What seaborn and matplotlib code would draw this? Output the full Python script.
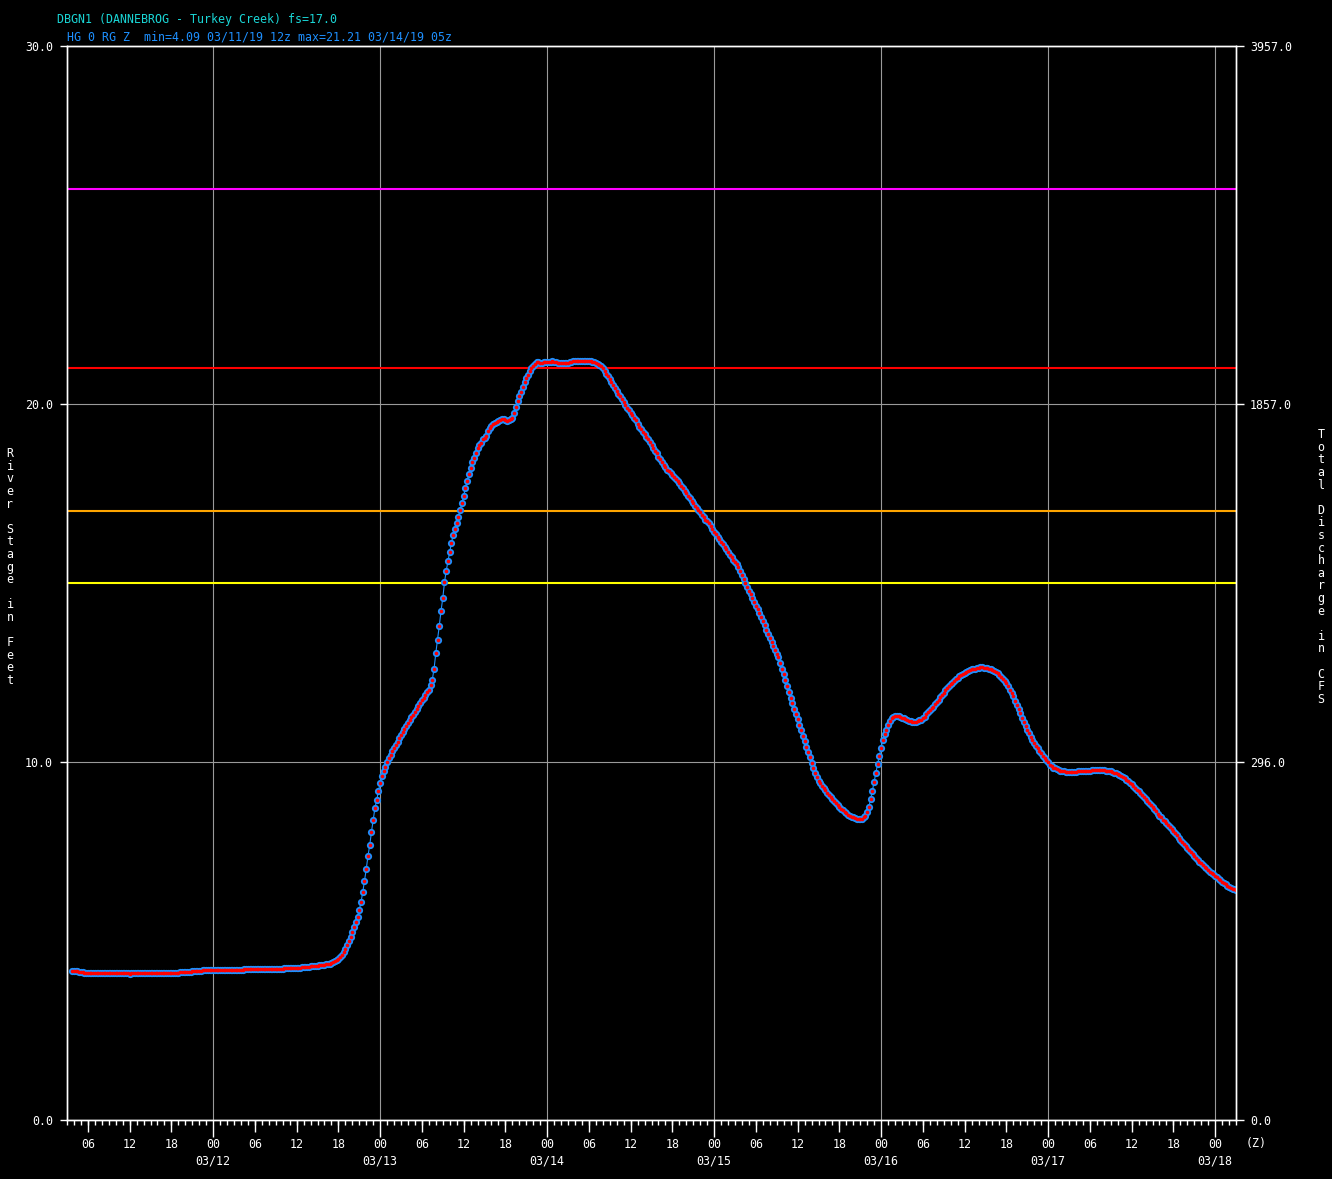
import numpy as np
import pandas as pd
import matplotlib
matplotlib.use('Agg')
import matplotlib.pyplot as plt
import matplotlib.dates as mdates
import matplotlib.transforms as mtransforms
import seaborn as sns

# DBGN1 river stage (ft), 15-minute observations, one list per UTC day
stage_0311 = [4.15,
              4.15, 4.15, 4.15, 4.14, 4.13, 4.13, 4.12, 4.12, 4.12, 4.12, 4.12, 4.12,
              4.12, 4.12, 4.12, 4.12, 4.12, 4.12, 4.12, 4.12, 4.12, 4.12, 4.12, 4.11,
              4.12, 4.12, 4.12, 4.12, 4.12, 4.12, 4.11, 4.11, 4.09, 4.10, 4.10, 4.11,
              4.11, 4.11, 4.12, 4.12, 4.12, 4.12, 4.12, 4.12, 4.11, 4.10, 4.10, 4.11,
              4.12, 4.11, 4.10, 4.10, 4.11, 4.12, 4.12, 4.11, 4.11, 4.11, 4.12, 4.12,
              4.12, 4.13, 4.13, 4.13, 4.13, 4.14, 4.14, 4.14, 4.15, 4.16, 4.16, 4.17,
              4.17, 4.17, 4.18, 4.18, 4.18, 4.18, 4.18, 4.19]
stage_0312 = [4.19, 4.19, 4.19, 4.19, 4.19, 4.19, 4.19, 4.19, 4.19, 4.19, 4.19, 4.19,
              4.19, 4.19, 4.19, 4.20, 4.20, 4.20, 4.21, 4.22, 4.21, 4.21, 4.21, 4.22,
              4.22, 4.22, 4.22, 4.22, 4.22, 4.22, 4.22, 4.22, 4.22, 4.22, 4.22, 4.23,
              4.23, 4.23, 4.23, 4.23, 4.23, 4.24, 4.25, 4.24, 4.24, 4.24, 4.25, 4.25,
              4.25, 4.25, 4.25, 4.26, 4.26, 4.27, 4.27, 4.28, 4.29, 4.29, 4.30, 4.30,
              4.31, 4.32, 4.32, 4.33, 4.34, 4.35, 4.36, 4.37, 4.38, 4.40, 4.43, 4.46,
              4.50, 4.56, 4.62, 4.70, 4.79, 4.89, 5.00, 5.12, 5.25, 5.38, 5.52, 5.68,
              5.87, 6.08, 6.36, 6.68, 7.00, 7.37, 7.67, 8.04, 8.37, 8.71, 8.93, 9.18]
stage_0313 = [9.40, 9.61, 9.75, 9.87, 9.99, 10.10, 10.20, 10.30, 10.40, 10.48, 10.57, 10.66,
              10.75, 10.83, 10.92, 11.01, 11.10, 11.17, 11.25, 11.32, 11.40, 11.48, 11.56, 11.64,
              11.72, 11.80, 11.88, 11.96, 12.02, 12.14, 12.30, 12.60, 13.04, 13.41, 13.80, 14.22,
              14.57, 15.02, 15.34, 15.61, 15.87, 16.12, 16.34, 16.50, 16.67, 16.85, 17.05, 17.23,
              17.43, 17.64, 17.86, 18.04, 18.22, 18.38, 18.50, 18.62, 18.76, 18.85, 18.92, 19.01,
              19.06, 19.12, 19.25, 19.33, 19.39, 19.44, 19.47, 19.50, 19.53, 19.55, 19.57, 19.58,
              19.55, 19.52, 19.55, 19.58, 19.62, 19.75, 19.92, 20.08, 20.21, 20.33, 20.47, 20.62,
              20.73, 20.82, 20.92, 21.00, 21.07, 21.13, 21.16, 21.16, 21.15, 21.15, 21.16, 21.16]
stage_0314 = [21.16, 21.17, 21.18, 21.19, 21.18, 21.16, 21.15, 21.15, 21.15, 21.15, 21.15, 21.15,
              21.15, 21.17, 21.18, 21.19, 21.19, 21.20, 21.20, 21.20, 21.21, 21.21, 21.21, 21.21,
              21.20, 21.19, 21.18, 21.16, 21.15, 21.13, 21.10, 21.05, 21.00, 20.93, 20.85, 20.78,
              20.70, 20.62, 20.53, 20.45, 20.37, 20.29, 20.21, 20.14, 20.06, 19.98, 19.90, 19.82,
              19.75, 19.69, 19.62, 19.54, 19.45, 19.37, 19.29, 19.22, 19.16, 19.09, 19.02, 18.94,
              18.86, 18.78, 18.70, 18.62, 18.53, 18.45, 18.37, 18.29, 18.23, 18.17, 18.12, 18.07,
              18.01, 17.96, 17.90, 17.85, 17.78, 17.72, 17.65, 17.58, 17.51, 17.44, 17.37, 17.30,
              17.23, 17.16, 17.10, 17.03, 16.97, 16.90, 16.83, 16.77, 16.72, 16.67, 16.59, 16.51]
stage_0315 = [16.43, 16.37, 16.29, 16.22, 16.15, 16.08, 16.01, 15.94, 15.87, 15.79, 15.72, 15.64,
              15.60, 15.53, 15.44, 15.33, 15.21, 15.11, 15.01, 14.90, 14.79, 14.69, 14.58, 14.48,
              14.37, 14.26, 14.15, 14.04, 13.93, 13.82, 13.70, 13.58, 13.46, 13.35, 13.24, 13.13,
              13.02, 12.92, 12.77, 12.61, 12.45, 12.29, 12.12, 11.96, 11.80, 11.64, 11.48, 11.34,
              11.19, 11.04, 10.88, 10.73, 10.58, 10.43, 10.28, 10.13, 9.98, 9.84, 9.70, 9.58,
              9.48, 9.40, 9.33, 9.27, 9.21, 9.14, 9.08, 9.02, 8.97, 8.92, 8.86, 8.80,
              8.75, 8.70, 8.66, 8.61, 8.57, 8.53, 8.50, 8.47, 8.45, 8.43, 8.41, 8.40,
              8.40, 8.42, 8.45, 8.50, 8.60, 8.75, 8.97, 9.20, 9.45, 9.70, 9.95, 10.16]
stage_0316 = [10.40, 10.62, 10.78, 10.90, 11.03, 11.14, 11.23, 11.27, 11.29, 11.29, 11.28, 11.26,
              11.24, 11.22, 11.20, 11.18, 11.15, 11.14, 11.13, 11.13, 11.13, 11.14, 11.16, 11.18,
              11.22, 11.27, 11.33, 11.39, 11.45, 11.50, 11.55, 11.61, 11.67, 11.74, 11.81, 11.88,
              11.94, 12.00, 12.06, 12.12, 12.17, 12.22, 12.27, 12.32, 12.36, 12.40, 12.44, 12.47,
              12.50, 12.52, 12.55, 12.57, 12.59, 12.60, 12.61, 12.62, 12.63, 12.64, 12.64, 12.63,
              12.63, 12.62, 12.61, 12.59, 12.58, 12.55, 12.52, 12.48, 12.44, 12.38, 12.32, 12.26,
              12.20, 12.11, 12.02, 11.93, 11.83, 11.71, 11.59, 11.47, 11.36, 11.24, 11.12, 11.00,
              10.89, 10.80, 10.70, 10.61, 10.52, 10.45, 10.38, 10.31, 10.24, 10.18, 10.11, 10.05]
stage_0317 = [9.99, 9.93, 9.88, 9.84, 9.82, 9.80, 9.78, 9.76, 9.75, 9.74, 9.73, 9.73,
              9.73, 9.73, 9.73, 9.73, 9.73, 9.74, 9.74, 9.74, 9.74, 9.75, 9.75, 9.76,
              9.76, 9.77, 9.77, 9.77, 9.78, 9.78, 9.78, 9.77, 9.77, 9.76, 9.76, 9.75,
              9.74, 9.72, 9.70, 9.68, 9.66, 9.63, 9.60, 9.57, 9.54, 9.50, 9.46, 9.42,
              9.38, 9.33, 9.28, 9.23, 9.18, 9.13, 9.08, 9.03, 8.98, 8.92, 8.86, 8.80,
              8.74, 8.68, 8.62, 8.56, 8.50, 8.45, 8.39, 8.34, 8.29, 8.23, 8.18, 8.12,
              8.07, 8.01, 7.95, 7.89, 7.83, 7.77, 7.71, 7.65, 7.59, 7.54, 7.48, 7.43,
              7.37, 7.32, 7.27, 7.22, 7.17, 7.12, 7.07, 7.03, 6.98, 6.94, 6.90, 6.86]
stage_0318 = [6.82, 6.78, 6.74, 6.70, 6.66, 6.62, 6.58, 6.55, 6.51, 6.48, 6.46, 6.44,
              6.42]

# threshold lines (ft) and colours
levels = [26.0, 21.0, 17.0, 15.0]
level_colors = ['#ff00ff', '#ff0000', '#ffa500', '#ffff00']

stage_ticks = [0, 10, 20, 30]
flow_labels = ['0.0', '296.0', '1857.0', '3957.0']

stage = (stage_0311 + stage_0312 + stage_0313 + stage_0314 +
         stage_0315 + stage_0316 + stage_0317 + stage_0318)
times = pd.date_range('2019-03-11 03:45', periods=len(stage), freq='15min')
df = pd.DataFrame({'time': times, 'stage': stage})

sns.set_theme(style='ticks', rc={
    'figure.facecolor': 'black', 'axes.facecolor': 'black',
    'axes.edgecolor': 'white', 'text.color': 'white',
    'xtick.color': 'white', 'ytick.color': 'white',
    'axes.linewidth': 1.0, 'savefig.facecolor': 'black'})
plt.rcParams['font.family'] = ['DejaVu Sans Mono', 'DejaVu Sans']
FS = 8.4

W, H = 1332, 1179
fig = plt.figure(figsize=(W / 100, H / 100), dpi=100)
ax = fig.add_axes([67 / W, 59 / H, 1169 / W, 1074 / H])

for lv, c in zip(levels, level_colors):
    ax.axhline(lv, color=c, lw=1.5, zorder=2)

# hydrograph: blue dots with red core
sns.lineplot(data=df, x='time', y='stage', ax=ax, color='#1e90ff', lw=0.8,
             marker='o', markersize=5.2, markerfacecolor='#1e90ff',
             markeredgewidth=0, zorder=3)
sns.lineplot(data=df, x='time', y='stage', ax=ax, color='red', lw=0,
             marker='o', markersize=2.6, markerfacecolor='red',
             markeredgewidth=0, zorder=4)

t0 = pd.Timestamp('2019-03-11 03:00')
t1 = pd.Timestamp('2019-03-18 03:00')
ax.set_xlim(t0, t1)
ax.set_ylim(0, 30)
ax.set_xlabel('')
ax.set_ylabel('')

# x axis: 00z major (long ticks + grid), hourly minor
ax.xaxis.set_major_locator(mdates.DayLocator())
ax.xaxis.set_major_formatter(mdates.DateFormatter('%H'))
ax.xaxis.set_minor_locator(mdates.HourLocator())
ax.tick_params(axis='x', which='major', length=12.2, width=1, pad=0.6,
               labelsize=FS, colors='white')
ax.tick_params(axis='x', which='minor', length=3.6, width=1, colors='white')
ax.grid(axis='x', which='major', color='#9a9a9a', lw=0.8)
ax.grid(axis='y', which='major', color='#9a9a9a', lw=0.8)

# 6-hourly ticks with labels (06, 12, 18)
six = [t for t in pd.date_range('2019-03-11 06:00', t1, freq='6h') if t.hour != 0]
sec = ax.secondary_xaxis('bottom')
sec.set_xticks(mdates.date2num(six), labels=[t.strftime('%H') for t in six])
sec.tick_params(length=8.6, width=1, pad=4.2, labelsize=FS, colors='white')
sec.spines['bottom'].set_visible(False)

# date labels under the 00z ticks
trans = mtransforms.blended_transform_factory(ax.transData, ax.transAxes)
for d in pd.date_range('2019-03-12', '2019-03-18', freq='D'):
    ax.text(mdates.date2num(d), -41 / 1074, d.strftime('%m/%d'), transform=trans,
            ha='center', va='center', fontsize=FS, color='white')

ax.set_yticks(stage_ticks, labels=[f'{v:.1f}' for v in stage_ticks])
ax.tick_params(axis='y', length=5, width=1, pad=5, labelsize=FS, colors='white')

ax2 = ax.twinx()
ax2.set_ylim(0, 30)
ax2.set_yticks(stage_ticks, labels=flow_labels)
ax2.tick_params(axis='y', length=6, width=1, pad=4, labelsize=FS, colors='white')
for sp in ax.spines.values():
    sp.set_color('white')

fig.text(57 / W, 1 - 20 / H, 'DBGN1 (DANNEBROG - Turkey Creek) fs=17.0',
         color='#1ad6d6', fontsize=FS, va='center', ha='left')
fig.text(67 / W, 1 - 37 / H, 'HG 0 RG Z  min=4.09 03/11/19 12z max=21.21 03/14/19 05z',
         color='#1e90ff', fontsize=FS, va='center', ha='left')
fig.text(1256 / W, 1 - 1144 / H, '(Z)', fontsize=FS, va='center', ha='center')

fig.text(10 / W, 1 - 567 / H, '\n'.join('River Stage in Feet'), fontsize=FS,
         ha='center', va='center', linespacing=0.96)
fig.text(1321 / W, 1 - 567 / H, '\n'.join('Total Discharge in CFS'), fontsize=FS,
         ha='center', va='center', linespacing=0.96)

fig.savefig('out.png', dpi=100, facecolor='black')
